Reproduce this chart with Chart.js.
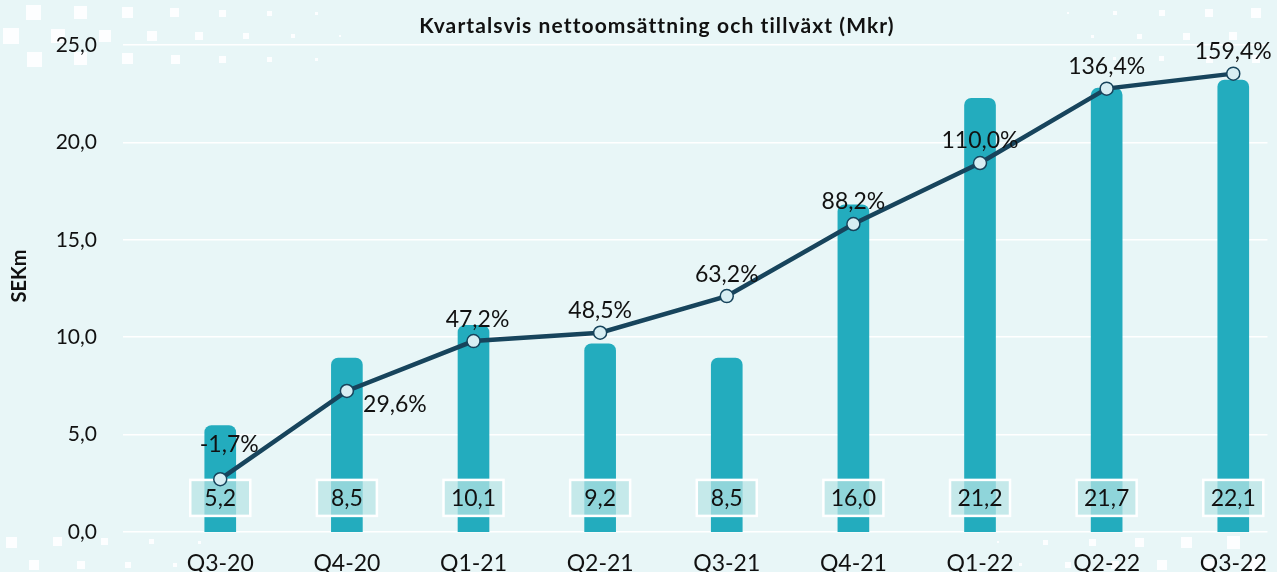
<!DOCTYPE html>
<html>
<head>
<meta charset="utf-8">
<script src="https://cdn.jsdelivr.net/npm/chart.js@4.4.0/dist/chart.umd.min.js"></script>
<style>
  html, body { margin: 0; padding: 0; background: #e8f6f7; }
  #wrap { width: 1277px; height: 572px; }
</style>
</head>
<body>
<div id="wrap"><canvas id="sales-chart" width="1277" height="572"></canvas></div>
<script>
const quarters = ['Q3-20', 'Q4-20', 'Q1-21', 'Q2-21', 'Q3-21', 'Q4-21', 'Q1-22', 'Q2-22', 'Q3-22'];
// net sales, MSEK (the numbers in the boxes)
const netSales = [5.2, 8.5, 10.1, 9.2, 8.5, 16.0, 21.2, 21.7, 22.1];
// growth in percent (labels on the line)
const growth = [-1.7, 29.6, 47.2, 48.5, 63.2, 88.2, 110.0, 136.4, 159.4];
// where the growth line sits
const growthLine = [2.71, 7.24, 9.80, 10.23, 12.11, 15.81, 18.94, 22.76, 23.53];
const yTicks = [0, 5, 10, 15, 20, 25];

const FONT = 'Lato, "Open Sans", sans-serif';
const fmt = v => v.toFixed(1).replace('.', ',');

const canvas = document.querySelector('#sales-chart');

// white squares in the corners of the background
const decoPlugin = {
    id: 'deco',
    beforeDraw(chart) {
        const ctx = chart.ctx;
        const corners = [[0, 25, 17], [1277, 0, 11], [0, 572, 12], [1277, 560, 15]];
        ctx.save();
        ctx.fillStyle = 'rgba(255,255,255,0.9)';
        for (let row = 0; row < 25; row++) {
            const y = 13 + row * 23;
            const x0 = row % 2 === 0 ? 34 : 11;
            for (let x = x0; x < 1277; x += 47) {
                let s = 0;
                corners.forEach(([cx, cy, base]) => {
                    const d = Math.hypot(x - cx, y - cy);
                    s = Math.max(s, base - d * 0.045);
                });
                if (s < 1.5) continue;
                if (y > 60 && y < 520) continue;
                ctx.fillRect(Math.round(x - s / 2), Math.round(y - s / 2), Math.round(s), Math.round(s));
            }
        }
        ctx.restore();
    }
};

const titlePlugin = {
    id: 'titleText',
    afterDraw(chart) {
        const ctx = chart.ctx;
        ctx.save();
        ctx.font = 'bold 21px ' + FONT;
        ctx.letterSpacing = '1.1px';
        ctx.fillStyle = '#111';
        ctx.textAlign = 'center';
        ctx.textBaseline = 'middle';
        ctx.fillText('Kvartalsvis nettoomsättning och tillväxt (Mkr)', 657, 26);
        ctx.letterSpacing = '0px';
        ctx.translate(20, 276);
        ctx.rotate(-Math.PI / 2);
        ctx.font = 'bold 20px ' + FONT;
        ctx.fillText('SEKm', 0, 0);
        ctx.restore();
    }
};

const boxPlugin = {
    id: 'salesBoxes',
    afterDatasetDraw(chart, args) {
        if (args.index !== 0) return;
        const ctx = chart.ctx;
        const y = chart.scales.y.getPixelForValue(1.75);
        ctx.save();
        args.meta.data.forEach((bar, i) => {
            ctx.fillStyle = 'rgba(184, 227, 229, 0.73)';
            ctx.strokeStyle = '#ffffff';
            ctx.lineWidth = 2.5;
            ctx.fillRect(bar.x - 30, y - 18, 60, 36);
            ctx.strokeRect(bar.x - 30, y - 18, 60, 36);
            ctx.fillStyle = '#111';
            ctx.font = '23px ' + FONT;
            ctx.textAlign = 'center';
            ctx.textBaseline = 'middle';
            ctx.fillText(fmt(netSales[i]), bar.x, y + 1);
        });
        ctx.restore();
    }
};

const growthLabelPlugin = {
    id: 'growthLabels',
    afterDatasetsDraw(chart) {
        const ctx = chart.ctx;
        const meta = chart.getDatasetMeta(1);
        ctx.save();
        ctx.font = '23px ' + FONT;
        ctx.fillStyle = '#111';
        ctx.textAlign = 'center';
        ctx.textBaseline = 'middle';
        meta.data.forEach((pt, i) => {
            let dx = 0, dy = -22;
            if (i === 0) { dx = 9; dy = -35; }
            if (i === 1) { dx = 48; dy = 14; }
            if (i === 2) { dx = 4; }
            ctx.fillText(fmt(growth[i]) + '%', pt.x + dx, pt.y + dy);
        });
        ctx.restore();
    }
};

new Chart(canvas.getContext('2d'), {
    type: 'bar',
    data: {
        datasets: [{
            type: 'bar',
            label: 'Nettoomsättning',
            data: netSales.map((v, i) => ({ x: i, y: v })),
            yAxisID: 'yBar',
            backgroundColor: '#23acbe',
            barThickness: 31,
            borderRadius: { topLeft: 7, topRight: 7 },
            borderSkipped: 'bottom',
            order: 2
        }, {
            type: 'line',
            label: 'Tillväxt',
            data: growthLine.map((v, i) => ({ x: i, y: v })),
            yAxisID: 'y',
            borderColor: '#17445c',
            borderWidth: 4.5,
            pointRadius: 6.5,
            pointHoverRadius: 6.5,
            pointBackgroundColor: '#d7eef3',
            pointBorderColor: '#17445c',
            pointBorderWidth: 1.5,
            tension: 0,
            order: 1
        }]
    },
    options: {
        responsive: false,
        animation: false,
        layout: { padding: { top: 45, right: 0, bottom: 0, left: 0 } },
        plugins: {
            legend: { display: false },
            tooltip: { enabled: false }
        },
        scales: {
            x: {
                type: 'linear',
                offset: false,
                min: -0.768,
                max: 8.27,
                grid: { display: false, offset: false },
                border: { display: false },
                afterBuildTicks: s => { s.ticks = quarters.map((q, i) => ({ value: i })); },
                afterFit: s => { s.height = 40; },
                ticks: {
                    callback: v => quarters[v] ?? '',
                    color: '#111',
                    font: { family: FONT, size: 23 },
                    padding: 10,
                    maxRotation: 0,
                    autoSkip: false
                }
            },
            y: {
                min: 0,
                max: 25,
                afterBuildTicks: s => { s.ticks = yTicks.map(v => ({ value: v })); },
                afterFit: s => { s.width = 123; },
                grid: { color: '#ffffff', lineWidth: 1.5, drawTicks: false },
                border: { display: false },
                ticks: {
                    callback: v => fmt(v),
                    color: '#111',
                    font: { family: FONT, size: 21 },
                    padding: 26
                }
            },
            yBar: {
                display: false,
                min: 0,
                max: 23.81
            }
        }
    },
    plugins: [decoPlugin, titlePlugin, boxPlugin, growthLabelPlugin]
});
</script>
</body>
</html>
